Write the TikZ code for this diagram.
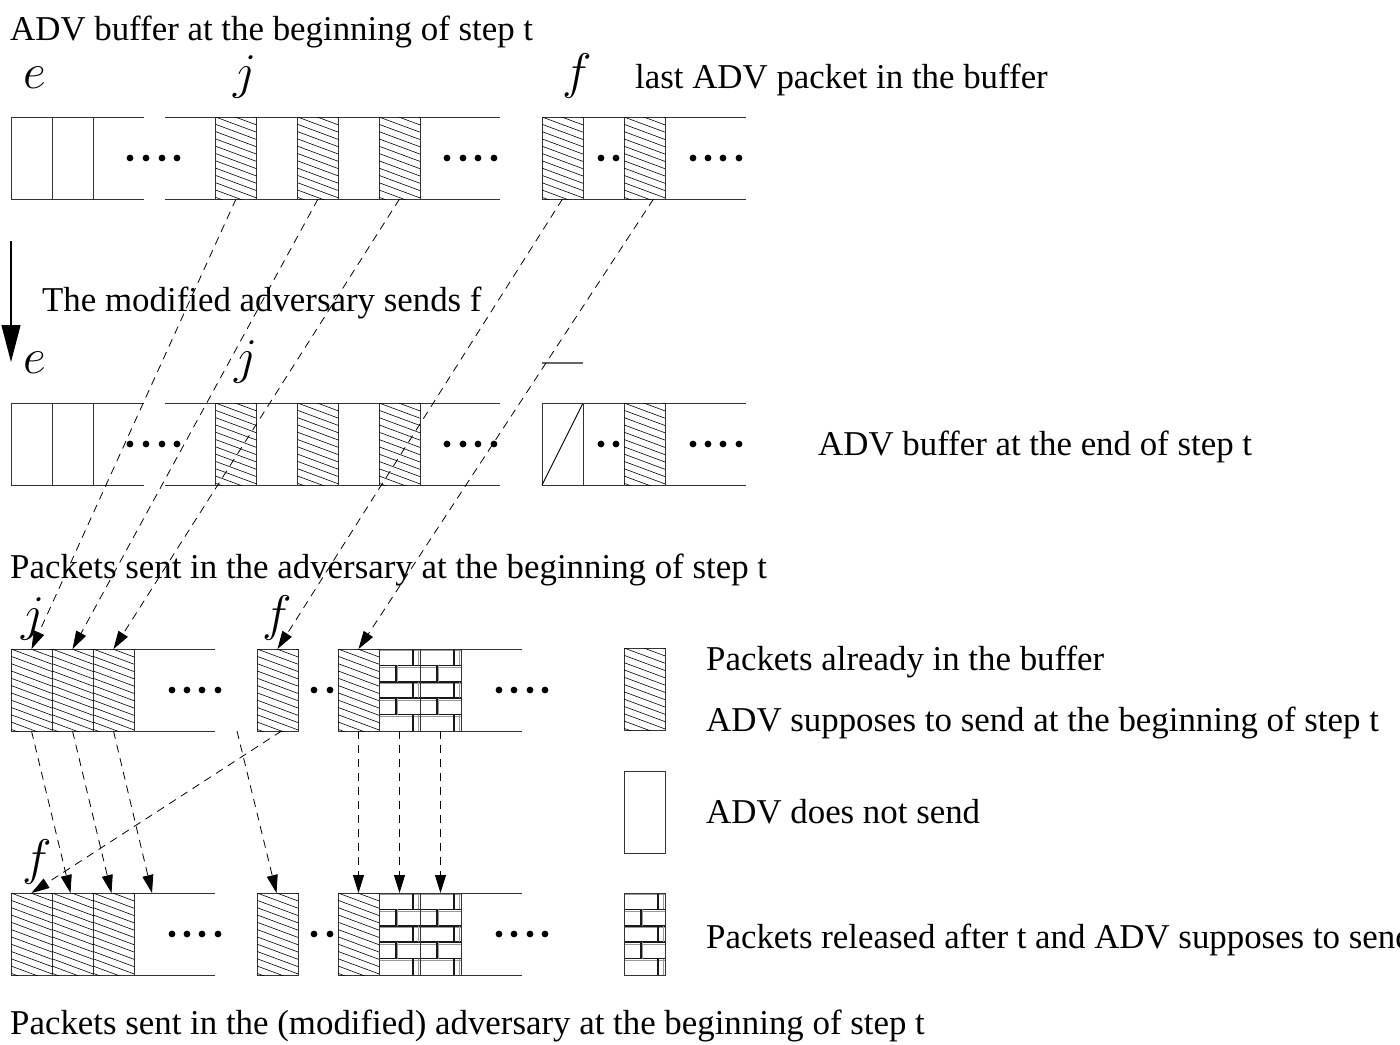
\RequirePackage{fix-cm}
\documentclass[tikz,border=0pt]{standalone}
\usepackage{fontspec}
\setmainfont{Liberation Serif}
\usetikzlibrary{arrows.meta}

\tikzset{
  rowline/.style={line width=0.9pt, black!80},
  cell/.style={draw=black!80, line width=0.9pt, minimum width=41pt, minimum height=82pt,
    inner sep=0pt, outer sep=0pt},
  hatchline/.style={line width=0.6pt, black},
  brickline/.style={line width=1.6pt, black!90},
  brickshade/.style={line width=1pt, black!40},
  lbl/.style={anchor=base west, inner sep=0pt, font=\fontsize{34.85}{40}\selectfont},
  letter/.style={anchor=base, inner sep=0pt, font=\fontsize{50}{50}\selectfont},
  dasharrow/.style={dash pattern=on 8pt off 6pt, line width=0.8pt,
    -{Triangle[length=18pt,width=11pt]}},
  dotmark/.style={fill=black}
}

% diagonal hatching inside a cell node
\newcommand\hatchcell[1]{%
  \begin{scope}
    \clip (#1.north west) rectangle (#1.south east);
    \foreach \k in {-2,...,11}
      \draw[hatchline] ([shift={(0,\k*7.3)}]#1.north west) -- ++(41,15.2);
  \end{scope}}

% brick wall inside a cell node
\newcommand\brickcell[1]{%
  \begin{scope}
    \clip (#1.north west) rectangle (#1.south east);
    \foreach \r in {0,...,4}{
      \draw[brickshade] ([shift={(0,\r*16.4+1.8)}]#1.north west) -- ++(41,0);
      \draw[brickline] ([shift={(0,\r*16.4)}]#1.north west) -- ++(41,0);}
    \foreach \r in {0,2,4}{
      \draw[brickline] ([shift={(34,\r*16.4)}]#1.north west) -- ++(0,16.4);
      \draw[brickshade] ([shift={(39,\r*16.4)}]#1.north west) -- ++(0,16.4);}
    \foreach \r in {1,3}{
      \draw[brickshade] ([shift={(18.8,\r*16.4)}]#1.north west) -- ++(0,16.4);
      \draw[brickline] ([shift={(17,\r*16.4)}]#1.north west) -- ++(0,16.4);}
  \end{scope}
  \draw[black!80, line width=0.9pt] (#1.north west) rectangle (#1.south east);}

\begin{document}
\begin{tikzpicture}[x=1pt,y=-1pt]
\useasboundingbox (0,0) rectangle (1400,1044);

% ---------- buffer at the beginning of step t ----------
\node[lbl] (title1) at (10,40) {ADV buffer at the beginning of step t};
\node[letter] (e1) at (35,88) {$e$};
\node[letter] (j1) at (245,88) {$j$};
\node[letter] (f1) at (577,88) {$f$};
\node[lbl] (last) at (635,88) {last ADV packet in the buffer};

\node[cell] (a1) at (31.5,158) {};
\node[cell] (a2) at (72.5,158) {};
\draw[rowline] (11,117) -- (144,117) (11,199) -- (144,199);
\node[cell] (aj) at (236,158) {};
\node[cell] (ak) at (318,158) {};
\node[cell] (al) at (399.5,158) {};
\draw[rowline] (165,117) -- (500,117) (165,199) -- (500,199);
\node[cell] (af) at (562.5,158) {};
\node[cell] (ag) at (644.5,158) {};
\draw[rowline] (542,117) -- (746,117) (542,199) -- (746,199);
\foreach \n in {aj,ak,al,af,ag} \hatchcell{\n};
\foreach \x in {130,146,162,177,447,463,478,494,601,616,693,708,723,739}
  \fill[dotmark] (\x,158) circle (3.4pt);

% ---------- the modified adversary ----------
\coordinate (down1) at (11,241);
\coordinate (down2) at (11,362);
\draw[line width=1.2pt, -{Triangle[length=37pt,width=19pt]}] (down1) -- (down2);
\node[lbl] (sends) at (42,311) {The modified adversary sends f};

% ---------- buffer at the end of step t ----------
\node[letter] (e2) at (35,373) {$e$};
\node[letter] (j2) at (246,373) {$j$};
\draw[line width=1.2pt, black!60] (542,363) -- (583,363);

\node[cell] (b1) at (31.5,444) {};
\node[cell] (b2) at (72.5,444) {};
\draw[rowline] (11,403) -- (144,403) (11,485) -- (144,485);
\node[cell] (bj) at (236,444) {};
\node[cell] (bk) at (318,444) {};
\node[cell] (bl) at (399.5,444) {};
\draw[rowline] (165,403) -- (500,403) (165,485) -- (500,485);
\node[cell] (bf) at (562.5,444) {};
\draw[line width=0.9pt] (bf.south west) -- (bf.north east);
\node[cell] (bg) at (644.5,444) {};
\draw[rowline] (542,403) -- (746,403) (542,485) -- (746,485);
\foreach \n in {bj,bk,bl,bg} \hatchcell{\n};
\foreach \x in {130,146,162,177,447,463,478,494,601,616,693,708,723,739}
  \fill[dotmark] (\x,444) circle (3.4pt);
\node[lbl] (endstep) at (818,455) {ADV buffer at the end of step t};

% ---------- packets sent by the adversary ----------
\node[lbl] (sent1) at (10,578) {Packets sent in the adversary at the beginning of step t};
\node[letter] (j3) at (33,630) {$j$};
\node[letter] (f3) at (277,630) {$f$};

\node[cell] (c1) at (31.5,690) {};
\node[cell] (c2) at (72.5,690) {};
\node[cell] (c3) at (113.5,690) {};
\draw[rowline] (11,649) -- (215,649) (11,731) -- (215,731);
\node[cell] (cf) at (277.5,690) {};
\node[cell] (c5) at (358.5,690) {};
\node[cell] (c6) at (399.5,690) {};
\node[cell] (c7) at (440.5,690) {};
\draw[rowline] (338,649) -- (522,649) (338,731) -- (522,731);
\foreach \n in {c1,c2,c3,cf,c5} \hatchcell{\n};
\brickcell{c6}
\brickcell{c7}
\foreach \x in {172,187,202,218,314,330,499,514,530,545}
  \fill[dotmark] (\x,690) circle (3.4pt);

% ---------- packets sent by the modified adversary ----------
\node[letter] (f4) at (37,874) {$f$};
\node[cell] (d1) at (31.5,934) {};
\node[cell] (d2) at (72.5,934) {};
\node[cell] (d3) at (113.5,934) {};
\draw[rowline] (11,893) -- (215,893) (11,975) -- (215,975);
\node[cell] (d4) at (277.5,934) {};
\node[cell] (d5) at (358.5,934) {};
\node[cell] (d6) at (399.5,934) {};
\node[cell] (d7) at (440.5,934) {};
\draw[rowline] (338,893) -- (522,893) (338,975) -- (522,975);
\foreach \n in {d1,d2,d3,d4,d5} \hatchcell{\n};
\brickcell{d6}
\brickcell{d7}
\foreach \x in {172,187,202,218,314,330,499,514,530,545}
  \fill[dotmark] (\x,934) circle (3.4pt);
\node[lbl] (sent2) at (10,1034) {Packets sent in the (modified) adversary at the beginning of step t};

% ---------- legend ----------
\node[cell] (l1) at (644.5,689) {};
\hatchcell{l1}
\node[lbl] (l1a) at (706,670) {Packets already in the buffer};
\node[lbl] (l1b) at (706,731) {ADV supposes to send at the beginning of step t};
\node[cell] (l2) at (644.5,812.5) {};
\node[lbl] (l2a) at (706,823) {ADV does not send};
\node[cell] (l3) at (644.5,934) {};
\brickcell{l3}
\node[lbl] (l3a) at (706,948) {Packets released after t and ADV supposes to send};

% ---------- moves from the buffer to the sent packets ----------
\draw[dasharrow] (aj.south) -- (c1.north);
\draw[dasharrow] (ak.south) -- (c2.north);
\draw[dasharrow] (al.south) -- (c3.north);
\draw[dasharrow] (af.south) -- (cf.north);
\draw[dasharrow] ([xshift=9pt]ag.south) -- (c5.north);

% ---------- reordering for the modified adversary ----------
\coordinate (gapc) at (237,731);
\coordinate (gapd) at (152,893);
\draw[dasharrow] (c1.south) -- ([xshift=-2pt]d2.north);
\draw[dasharrow] (c2.south) -- ([xshift=-2pt]d3.north);
\draw[dasharrow] (c3.south) -- (gapd);
\draw[dasharrow] (gapc) -- ([xshift=-1pt]d4.north);
\draw[dasharrow] ([xshift=4pt]cf.south) -- (d1.north);
\draw[dasharrow] (c5.south) -- (d5.north);
\draw[dasharrow] (c6.south) -- (d6.north);
\draw[dasharrow] (c7.south) -- (d7.north);
\end{tikzpicture}
\end{document}
